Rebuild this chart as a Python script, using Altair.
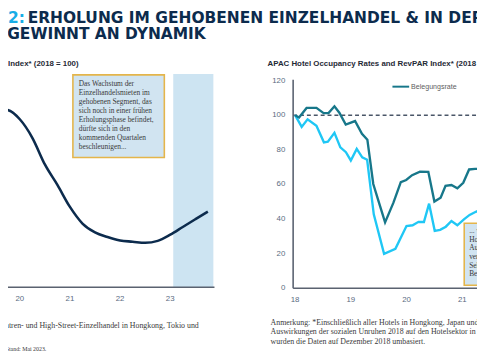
import altair as alt
import pandas as pd

# ---------------- data ----------------
# Left panel: prime retail rent index (quarterly, decimal years)
rent_t = [2019.5, 2019.75, 2020.0, 2020.25, 2020.5, 2020.75, 2021.0, 2021.25, 2021.5,
          2021.75, 2022.0, 2022.25, 2022.5, 2022.75, 2023.0, 2023.25, 2023.5, 2023.75]
rent_v = [101.2, 100.9, 98.5, 93.7, 86.8, 81.5, 75.8, 71.5, 69.2,
          68.0, 67.1, 66.8, 66.5, 67.0, 68.6, 70.6, 72.6, 74.6]
left_ticks = [2020, 2021, 2022, 2023]
left_tick_labels = ["20", "21", "22", "23"]
forecast_start = [2023.06]
forecast_end = [2023.86]

# Right panel: APAC hotel occupancy (Belegungsrate) and RevPAR index
occ_t = [2018.000, 2018.071, 2018.206, 2018.383, 2018.512, 2018.600, 2018.706, 2018.794,
         2018.909, 2019.076, 2019.200, 2019.297, 2019.403, 2019.500, 2019.615, 2019.765,
         2019.897, 2019.994, 2020.100, 2020.241, 2020.391, 2020.500, 2020.612, 2020.700,
         2020.806, 2020.912, 2021.018, 2021.123, 2021.229, 2021.353]
occ_v = [100.0, 98.7, 104.3, 104.3, 101.3, 101.3, 105.2, 101.5,
         94.7, 96.7, 89.3, 85.9, 60.3, 50.1, 38.1, 49.5,
         61.4, 62.6, 65.4, 67.4, 67.3, 50.1, 52.3, 59.2,
         59.7, 57.8, 61.0, 68.7, 69.0, 69.1]
rev_t = [2018.000, 2018.118, 2018.224, 2018.383, 2018.517, 2018.588, 2018.706, 2018.812,
         2018.912, 2019.000, 2019.106, 2019.205, 2019.293, 2019.412, 2019.597, 2019.800,
         2019.999, 2020.109, 2020.215, 2020.312, 2020.405, 2020.506, 2020.603, 2020.705,
         2020.806, 2020.912, 2021.030, 2021.132, 2021.235, 2021.353]
rev_v = [100.1, 93.3, 97.7, 93.9, 84.4, 84.8, 89.9, 81.5,
         78.7, 73.9, 80.6, 75.7, 74.3, 42.7, 19.9, 22.8,
         36.0, 36.4, 38.4, 38.3, 48.9, 33.2, 33.8, 35.6,
         38.9, 36.4, 39.8, 42.4, 44.1, 45.5]
right_ticks = [2018, 2019, 2020, 2021]
right_tick_labels = ["18", "19", "20", "21"]
y_ticks = [0, 20, 40, 60, 80, 100, 120]
baseline = [100]

# ---------------- texts ----------------
title_num = "2:"
title_line1 = "ERHOLUNG IM GEHOBENEN EINZELHANDEL & IN DER"
title_line2 = "E GEWINNT AN DYNAMIK"
left_subtitle = "Index* (2018 = 100)"
right_subtitle = "APAC Hotel Occupancy Rates and RevPAR Index*  (2018 = 100)"
left_box_lines = ["Das Wachstum der", "Einzelhandelsmieten im", "gehobenen Segment, das",
                  "sich noch in einer frühen", "Erholungsphase befindet,", "dürfte sich in den",
                  "kommenden Quartalen", "beschleunigen..."]
right_box_lines = ["... während die", "Hotellerie", "Aufwind", "verzeichnet", "Sektor", "Belegungsraten"]
left_note1 = "Anmerkung: *Einschließlich Einkaufszentren- und High-Street-Einzelhandel in Hongkong, Tokio und"
left_note2 = "Quelle: Research. Stand: Mai 2023."
right_notes = ["Anmerkung: *Einschließlich aller Hotels in Hongkong, Japan und Singapur.",
               "Auswirkungen der sozialen Unruhen 2018 auf den Hotelsektor in Hongkong",
               "wurden die Daten auf Dezember 2018 umbasiert."]
legend_label = "Belegungsrate"

# ---------------- style ----------------
NAVY = "#0c2b4d"
LIGHTBLUE = "#17ade6"
TEAL = "#17778a"
CYAN = "#1fc7f5"
SHADE = "#cde4f2"
BOXFILL = "#d1e4f1"
BOXSTROKE = "#e4b54b"
AXIS = "#5a6270"
LABEL = "#5a6b82"
SANS = "Liberation Sans"
SERIF = "Liberation Serif"

dummy = pd.DataFrame({"k": [0]})

xL = alt.Scale(domain=[2020, 2023], range=[12, 165], zero=False, nice=False)
yL = alt.Scale(domain=[55, 110], range=[281, 65], zero=False, nice=False)
xR = alt.Scale(domain=[2018, 2021], range=[292, 462], zero=False, nice=False)
yR = alt.Scale(domain=[0, 120], range=[282, 71], zero=False, nice=False)


def txt(text, x, y, size, color, font, weight="normal", align="left", baseline="middle", line_height=None):
    kw = dict(fontSize=size, color=color, font=font, fontWeight=weight, align=align, baseline=baseline)
    if line_height is not None:
        kw["lineHeight"] = line_height
    return alt.Chart(dummy).mark_text(**kw).encode(
        x=alt.value(x), y=alt.value(y), text=alt.value(text))


layers = []

# ---- left panel ----
shade_df = pd.DataFrame({"a": forecast_start, "b": forecast_end})
layers.append(alt.Chart(shade_df).mark_rect(color=SHADE).encode(
    x=alt.X("a:Q", scale=xL, axis=None), x2="b:Q",
    y=alt.value(64), y2=alt.value(281)))

rent_df = pd.DataFrame({"t": rent_t, "v": rent_v})
layers.append(alt.Chart(rent_df).mark_line(color=NAVY, strokeWidth=2.6, interpolate="monotone").encode(
    x=alt.X("t:Q", scale=xL, axis=None), y=alt.Y("v:Q", scale=yL, axis=None)))

layers.append(alt.Chart(dummy).mark_rule(color=AXIS, strokeWidth=1.6).encode(
    x=alt.value(0), x2=alt.value(210), y=alt.value(281)))

lt_df = pd.DataFrame({"t": left_ticks, "lab": left_tick_labels})
layers.append(alt.Chart(lt_df).mark_text(fontSize=8, color=LABEL, font=SANS, baseline="middle").encode(
    x=alt.X("t:Q", scale=xL, axis=None), y=alt.value(293), text="lab:N"))

layers.append(alt.Chart(dummy).mark_rect(fill=BOXFILL, stroke=BOXSTROKE, strokeWidth=1.6).encode(
    x=alt.value(66), x2=alt.value(159), y=alt.value(65), y2=alt.value(149)))
layers.append(txt(left_box_lines, 72, 74, 7.5, "#3a3a3a", SERIF, line_height=9.2))

layers.append(txt(left_subtitle, 0, 54, 8, "#1f2a36", SANS, weight="bold"))

# ---- title ----
layers.append(txt(title_num, 0, 12, 15.7, LIGHTBLUE, "DejaVu Sans", weight="bold", baseline="alphabetic"))
layers.append(txt(title_line1, 20, 12, 15.7, NAVY, "DejaVu Sans", weight="bold", baseline="alphabetic"))
layers.append(txt(title_line2, -17, 29, 15.7, NAVY, "DejaVu Sans", weight="bold", baseline="alphabetic"))

# ---- right panel ----
layers.append(alt.Chart(pd.DataFrame({"b": baseline})).mark_rule(
    color="#4a5668", strokeWidth=1.6, strokeDash=[4, 3]).encode(
    y=alt.Y("b:Q", scale=yR, axis=None), x=alt.value(290), x2=alt.value(477)))

layers.append(alt.Chart(dummy).mark_rule(color=AXIS, strokeWidth=1.6).encode(
    x=alt.value(290), y=alt.value(70), y2=alt.value(282)))
layers.append(alt.Chart(dummy).mark_rule(color=AXIS, strokeWidth=1.6).encode(
    x=alt.value(290), x2=alt.value(477), y=alt.value(282)))

yt_df = pd.DataFrame({"v": y_ticks})
layers.append(alt.Chart(yt_df).mark_text(fontSize=8, color=LABEL, font=SANS, align="right", baseline="middle").encode(
    y=alt.Y("v:Q", scale=yR, axis=None), x=alt.value(282), text="v:Q"))

rt_df = pd.DataFrame({"t": right_ticks, "lab": right_tick_labels})
layers.append(alt.Chart(rt_df).mark_text(fontSize=8, color=LABEL, font=SANS, baseline="middle").encode(
    x=alt.X("t:Q", scale=xR, axis=None), y=alt.value(294), text="lab:N"))

rev_df = pd.DataFrame({"t": rev_t, "v": rev_v})
layers.append(alt.Chart(rev_df).mark_line(color=CYAN, strokeWidth=2.4).encode(
    x=alt.X("t:Q", scale=xR, axis=None), y=alt.Y("v:Q", scale=yR, axis=None)))
occ_df = pd.DataFrame({"t": occ_t, "v": occ_v})
layers.append(alt.Chart(occ_df).mark_line(color=TEAL, strokeWidth=2.4).encode(
    x=alt.X("t:Q", scale=xR, axis=None), y=alt.Y("v:Q", scale=yR, axis=None)))

layers.append(alt.Chart(dummy).mark_rule(color=TEAL, strokeWidth=2).encode(
    x=alt.value(391), x2=alt.value(408), y=alt.value(77)))
layers.append(txt(legend_label, 410, 77, 7.2, "#606060", SANS))

layers.append(alt.Chart(dummy).mark_rect(fill=BOXFILL, stroke=BOXSTROKE, strokeWidth=1.6).encode(
    x=alt.value(464), x2=alt.value(500), y=alt.value(216), y2=alt.value(279)))
layers.append(txt(right_box_lines, 469, 224, 7.5, "#3a3a3a", SERIF, line_height=8.8))

layers.append(txt(right_subtitle, 264, 54, 8, "#1f2a36", SANS, weight="bold"))

# ---- footnotes ----
layers.append(txt(left_note1, 194, 320, 8, "#3a3a3a", SERIF, align="right"))
layers.append(txt(left_note2, 39, 344, 6, "#3a3a3a", SERIF, align="right"))
layers.append(txt(right_notes, 267, 317, 8, "#3a3a3a", SERIF, line_height=10))

chart = alt.layer(*layers).resolve_scale(x="independent", y="independent").properties(
    width=477, height=352, padding=0, autosize="none", background="white"
).configure_view(stroke=None)

chart.save("out.html", embed_options={"renderer": "svg", "actions": False})
